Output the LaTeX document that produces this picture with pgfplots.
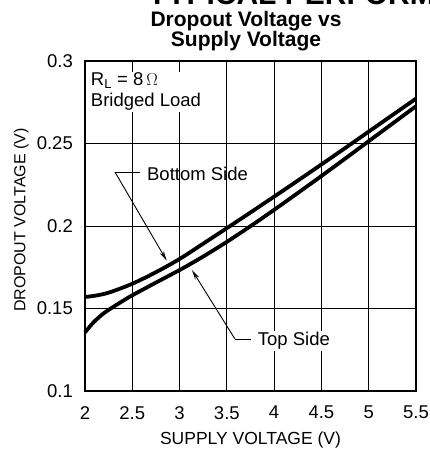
\documentclass[border=0pt]{standalone}
\usepackage{fontspec}
\setmainfont{Liberation Sans}
\usepackage{pgfplots}
\pgfplotsset{compat=1.18}
\usetikzlibrary{arrows.meta}

% upper curve (Bottom Side) and lower curve (Top Side)
\pgfplotstableread{
x     y
2.00  0.1570
2.10  0.1577
2.25  0.1596
2.50  0.1650
2.75  0.1720
3.00  0.1800
3.25  0.1893
3.50  0.1987
3.75  0.2082
4.00  0.2178
4.25  0.2275
4.50  0.2373
4.75  0.2472
5.00  0.2572
5.25  0.2672
5.50  0.2772
}\bottomside
\pgfplotstableread{
x     y
2.00  0.1355
2.05  0.1390
2.10  0.1422
2.20  0.1472
2.30  0.1510
2.40  0.1546
2.50  0.1580
2.75  0.1657
3.00  0.1733
3.25  0.1815
3.50  0.1904
3.75  0.1999
4.00  0.2098
4.25  0.2200
4.50  0.2303
4.75  0.2408
5.00  0.2514
5.25  0.2620
5.50  0.2726
}\topside

\begin{document}
\begin{tikzpicture}[x=1pt,y=1pt]
\path[use as bounding box] (0,0) rectangle (430,459);
\node[anchor=base west, inner sep=0pt, font=\fontsize{30}{30}\selectfont\bfseries]
  at (148,454) {TYPICAL PERFORMANCE CHARACTERISTICS};
\node[anchor=base, inner sep=0pt, font=\fontsize{21}{21}\selectfont\bfseries]
  at (246,432) {Dropout Voltage vs};
\node[anchor=base, inner sep=0pt, font=\fontsize{21}{21}\selectfont\bfseries]
  at (246,412) {Supply Voltage};
\begin{axis}[
  at={(85pt,68pt)}, anchor=south west,
  scale only axis, width=331pt, height=330pt,
  xmin=2, xmax=5.5, ymin=0.1, ymax=0.3,
  xtick={2,2.5,...,5.5},
  ytick={0.1,0.15,0.2,0.25,0.3},
  xticklabels={2,2.5,3,3.5,4,4.5,5,5.5},
  yticklabels={0.1,0.15,0.2,0.25,0.3},
  major tick length=0pt,
  grid=major,
  major grid style={black, line width=0.9pt},
  axis line style={black, line width=1.4pt},
  tick label style={font=\fontsize{18.5}{18.5}\selectfont, inner sep=0pt},
  yticklabel shift=12pt,
  xticklabel shift=15pt,
  /pgf/number format/assume math mode=true,
  xlabel={SUPPLY VOLTAGE (V)},
  ylabel={DROPOUT VOLTAGE (V)},
  xlabel style={font=\fontsize{17.5}{17.5}\selectfont,
    at={(axis description cs:0.5,-0.1485)}, anchor=center},
  ylabel style={font=\fontsize{16}{16}\selectfont,
    at={(axis description cs:-0.193,0.518)}, anchor=center},
  clip=false
]
\addplot[black, line width=3.8pt, smooth] table[x=x, y=y] {\bottomside};
\addplot[black, line width=3.8pt, smooth] table[x=x, y=y] {\topside};

\node[anchor=north west, align=left, fill=white, inner sep=1pt,
  font=\fontsize{18.5}{21}\selectfont]
  at (axis cs:2.05,0.2935) {R\textsubscript{L} = 8\,$\Omega$\\Bridged Load};

% Bottom Side leader
\draw[black, line width=0.9pt] (axis cs:2.581,0.2327) -- (axis cs:2.317,0.2327);
\draw[black, line width=0.9pt, -{Stealth[length=10pt,width=4.5pt]}]
  (axis cs:2.317,0.2327) -- (axis cs:2.864,0.1790);
\node[anchor=west, inner sep=0pt, font=\fontsize{18.5}{18.5}\selectfont]
  at (axis cs:2.655,0.2315) {Bottom Side};

% Top Side leader
\draw[black, line width=0.9pt] (axis cs:3.755,0.1315) -- (axis cs:3.586,0.1315);
\draw[black, line width=0.9pt, -{Stealth[length=10pt,width=4.5pt]}]
  (axis cs:3.586,0.1315) -- (axis cs:3.131,0.1733);
\node[anchor=west, fill=white, inner sep=1.5pt, font=\fontsize{18.5}{18.5}\selectfont]
  at (axis cs:3.81,0.1303) {Top Side};
\end{axis}
\end{tikzpicture}
\end{document}
